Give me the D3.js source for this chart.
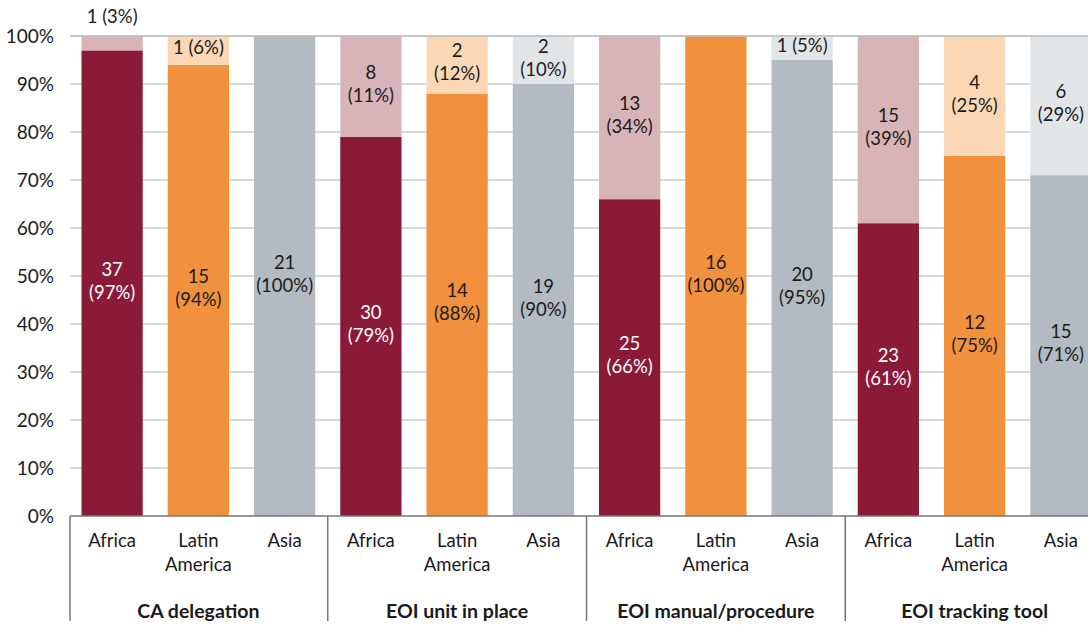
<!DOCTYPE html>
<html>
<head>
<meta charset="utf-8">
<script src="https://cdn.jsdelivr.net/npm/d3@7"></script>
<style>
  html, body { margin: 0; padding: 0; background: #fff; }
  svg { display: block; font-family: Lato, "Noto Sans", sans-serif; }
</style>
</head>
<body>
<svg id="chart" width="1088" height="625"></svg>
<script>
// Measures and regions
const groups = ["CA delegation", "EOI unit in place", "EOI manual/procedure", "EOI tracking tool"];
const regions = ["Africa", "Latin America", "Asia"];

// Counts and shares that have the measure in place ("yes") per group, per region
const yesCounts = [[37, 15, 21], [30, 14, 19], [25, 16, 20], [23, 12, 15]];
const yesPct    = [[97, 94, 100], [79, 88, 90], [66, 100, 95], [61, 75, 71]];
// Counts and printed shares for the remaining part of each bar
const noCounts  = [[1, 1, 0], [8, 2, 2], [13, 0, 1], [15, 4, 6]];
const noPct     = [[3, 6, 0], [11, 12, 10], [34, 0, 5], [39, 25, 29]];

const yTicks = [0, 10, 20, 30, 40, 50, 60, 70, 80, 90, 100];

const darkColors  = { "Africa": "#8b1a37", "Latin America": "#f2913d", "Asia": "#b4bac1" };
const lightColors = { "Africa": "#d8b3b7", "Latin America": "#fcd7b5", "Asia": "#e2e5e8" };
const darkText    = { "Africa": "#ffffff", "Latin America": "#1a1a1a", "Asia": "#1a1a1a" };

const FS = 18.5;

// Flatten to one record per bar
const bars = [];
groups.forEach((g, gi) => regions.forEach((r, ri) => bars.push({
  key: g + "|" + r, group: g, region: r,
  yes: yesCounts[gi][ri], yesP: yesPct[gi][ri],
  no: noCounts[gi][ri], noP: noPct[gi][ri]
})));

const svg = d3.select("#chart");
const plotTop = 36, plotBottom = 516, plotLeft = 69, plotRight = 1104;

const x = d3.scaleBand().domain(bars.map(d => d.key))
  .range([plotLeft, plotRight]).paddingInner(0.29).paddingOuter(0.145);
const y = d3.scaleLinear().domain([0, 100]).range([plotBottom, plotTop]);

// Gridlines
svg.append("g").selectAll("line").data(yTicks.filter(t => t > 0)).join("line")
  .attr("x1", 70).attr("x2", 1088)
  .attr("y1", d => y(d)).attr("y2", d => y(d))
  .attr("stroke", "#cccccc").attr("stroke-width", 1.5);

// Y axis labels
const yAxis = d3.axisLeft(y).tickValues(yTicks).tickFormat(d => d + "%").tickSize(0).tickPadding(16);
const ya = svg.append("g").attr("transform", "translate(70,0)").call(yAxis);
ya.select(".domain").remove();
ya.selectAll("text").attr("font-size", 19).attr("fill", "#1a1a1a")
  .attr("font-family", "Lato, 'Noto Sans', sans-serif");

// Bars
const bg = svg.append("g");
bg.selectAll("rect.yes").data(bars).join("rect").attr("class", "yes")
  .attr("x", d => x(d.key)).attr("width", x.bandwidth())
  .attr("y", d => y(d.yesP)).attr("height", d => y(0) - y(d.yesP))
  .attr("fill", d => darkColors[d.region]);
bg.selectAll("rect.no").data(bars.filter(d => d.no > 0)).join("rect").attr("class", "no")
  .attr("x", d => x(d.key)).attr("width", x.bandwidth())
  .attr("y", y(100)).attr("height", d => y(d.yesP) - y(100))
  .attr("fill", d => lightColors[d.region]);

// Top gridline drawn over the bar tops
svg.append("line").attr("x1", 70).attr("x2", 1088).attr("y1", y(100)).attr("y2", y(100))
  .attr("stroke", "#bfbfbf").attr("stroke-width", 1.5);

// Baseline
svg.append("line").attr("x1", 70).attr("x2", 1088).attr("y1", plotBottom).attr("y2", plotBottom)
  .attr("stroke", "#777777").attr("stroke-width", 1.5);

// Value labels
const lab = svg.append("g").attr("font-size", FS).attr("text-anchor", "middle");
const lineGap = 23;
bars.forEach(d => {
  const cx = x(d.key) + x.bandwidth() / 2;
  // lower segment
  const cy = (y(0) + y(d.yesP)) / 2 - 2;
  const t = lab.append("text").attr("fill", darkText[d.region]);
  t.append("tspan").attr("x", cx).attr("y", cy - lineGap / 2 + 6).text(d.yes);
  t.append("tspan").attr("x", cx).attr("y", cy + lineGap / 2 + 6).text("(" + d.yesP + "%)");
  // upper segment
  if (d.no > 0) {
    const span = 100 - d.yesP;
    const uy = (y(100) + y(d.yesP)) / 2 - 2;
    if (span < 5) {
      lab.append("text").attr("x", cx).attr("y", y(100) - 13).attr("fill", "#1a1a1a")
        .text(d.no + " (" + d.noP + "%)");
    } else if (span < 8) {
      lab.append("text").attr("x", cx).attr("y", uy + 6).attr("fill", "#1a1a1a")
        .text(d.no + " (" + d.noP + "%)");
    } else {
      const u = lab.append("text").attr("fill", "#1a1a1a");
      u.append("tspan").attr("x", cx).attr("y", uy - lineGap / 2 + 6).text(d.no);
      u.append("tspan").attr("x", cx).attr("y", uy + lineGap / 2 + 6).text("(" + d.noP + "%)");
    }
  }
});

// Region labels under each bar
const rl = svg.append("g").attr("font-size", FS).attr("text-anchor", "middle").attr("fill", "#1a1a1a");
bars.forEach(d => {
  const cx = x(d.key) + x.bandwidth() / 2;
  const words = d.region === "Latin America" ? ["Latin", "America"] : [d.region];
  const t = rl.append("text");
  words.forEach((w, i) => t.append("tspan").attr("x", cx).attr("y", 547 + i * 24).text(w));
});

// Group separators and group labels
const step = x.step();
const sep = svg.append("g").attr("stroke", "#777777").attr("stroke-width", 1.5);
groups.forEach((g, gi) => {
  const first = x(bars[gi * 3].key), last = x(bars[gi * 3 + 2].key) + x.bandwidth();
  const gap = (step - x.bandwidth()) / 2;
  const x0 = gi === 0 ? 70 : first - gap;
  sep.append("line").attr("x1", x0).attr("x2", x0).attr("y1", plotBottom).attr("y2", 621);
  svg.append("text").attr("x", (first + last) / 2).attr("y", 618)
    .attr("text-anchor", "middle").attr("font-size", 19.5).attr("font-weight", "bold")
    .attr("fill", "#1a1a1a").text(g);
});
</script>
</body>
</html>
